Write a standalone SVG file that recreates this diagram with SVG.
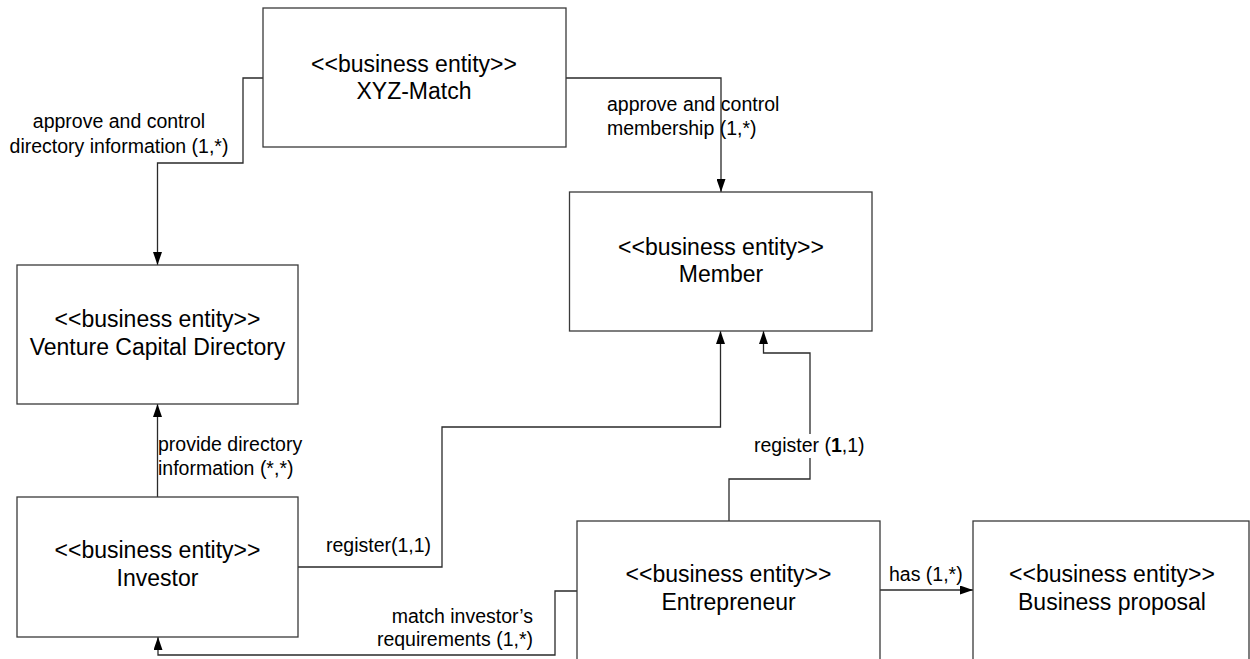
<svg xmlns="http://www.w3.org/2000/svg" width="1250" height="659" viewBox="0 0 1250 659">
  <defs>
    <style>
      .box { fill: #ffffff; stroke: #3a3a3a; stroke-width: 1.3; }
      .ent { font-family: "Liberation Sans", Arial, sans-serif; font-size: 23px; fill: #000; text-anchor: middle; }
      .lbl { font-family: "Liberation Sans", Arial, sans-serif; font-size: 19.5px; fill: #000; }
      .conn { fill: none; stroke: #2a2a2a; stroke-width: 1.3; }
    </style>
    <marker id="arrow" viewBox="0 0 13 9" refX="13" refY="4.5" markerWidth="13" markerHeight="9" markerUnits="userSpaceOnUse" orient="auto">
      <path d="M0,0 L13,4.5 L0,9 Z" fill="#000"/>
    </marker>
  </defs>
  <rect width="1250" height="659" fill="#ffffff"/>

  <!-- connectors -->
  <g id="connectors">
    <path class="conn" d="M263,78 H243 V163 H157.5 V265" marker-end="url(#arrow)"/>
    <path class="conn" d="M566,78 H721 V192" marker-end="url(#arrow)"/>
    <path class="conn" d="M157.5,497 V404" marker-end="url(#arrow)"/>
    <path class="conn" d="M298,567 H442 V427 H720.5 V331" marker-end="url(#arrow)"/>
    <path class="conn" d="M729,521 V479 H810 V353 H763.5 V331" marker-end="url(#arrow)"/>
    <path class="conn" d="M880,590 H973" marker-end="url(#arrow)"/>
    <path class="conn" d="M577,591 H555 V655 H158 V637" marker-end="url(#arrow)"/>

    <!-- connector labels -->
    <text class="lbl" x="119" y="128" text-anchor="middle">approve and control</text>
    <text class="lbl" x="119" y="153" text-anchor="middle">directory information (1,*)</text>
    <text class="lbl" x="607" y="111">approve and control</text>
    <text class="lbl" x="607" y="135">membership (1,*)</text>
    <text class="lbl" x="158" y="451">provide directory</text>
    <text class="lbl" x="158" y="475">information (*,*)</text>
    <text class="lbl" x="326" y="552">register(1,1)</text>
    <rect x="752" y="434" width="116" height="24" fill="#ffffff"/>
    <text class="lbl" x="754" y="452">register (<tspan font-weight="bold">1</tspan>,1)</text>
    <text class="lbl" x="889" y="581">has (1,*)</text>
    <text class="lbl" x="533" y="623" text-anchor="end">match investor’s</text>
    <text class="lbl" x="533" y="646" text-anchor="end">requirements (1,*)</text>
  </g>

  <!-- entities -->
  <g id="xyz-match">
    <rect class="box" x="263" y="8" width="303" height="139"/>
    <text class="ent" x="414" y="72">&lt;&lt;business entity&gt;&gt;</text>
    <text class="ent" x="414" y="99">XYZ-Match</text>
  </g>
  <g id="member">
    <rect class="box" x="569.5" y="192" width="302.5" height="139"/>
    <text class="ent" x="721" y="255">&lt;&lt;business entity&gt;&gt;</text>
    <text class="ent" x="721" y="282">Member</text>
  </g>
  <g id="venture-capital-directory">
    <rect class="box" x="17" y="265" width="281" height="139"/>
    <text class="ent" x="157.5" y="327">&lt;&lt;business entity&gt;&gt;</text>
    <text class="ent" x="157.5" y="355">Venture Capital Directory</text>
  </g>
  <g id="investor">
    <rect class="box" x="17" y="497" width="281" height="140"/>
    <text class="ent" x="157.5" y="558">&lt;&lt;business entity&gt;&gt;</text>
    <text class="ent" x="157.5" y="586">Investor</text>
  </g>
  <g id="entrepreneur">
    <rect class="box" x="577" y="521" width="303" height="160"/>
    <text class="ent" x="728.5" y="582">&lt;&lt;business entity&gt;&gt;</text>
    <text class="ent" x="728.5" y="610">Entrepreneur</text>
  </g>
  <g id="business-proposal">
    <rect class="box" x="973" y="521" width="276" height="160"/>
    <text class="ent" x="1112" y="582">&lt;&lt;business entity&gt;&gt;</text>
    <text class="ent" x="1112" y="610">Business proposal</text>
  </g>
</svg>
